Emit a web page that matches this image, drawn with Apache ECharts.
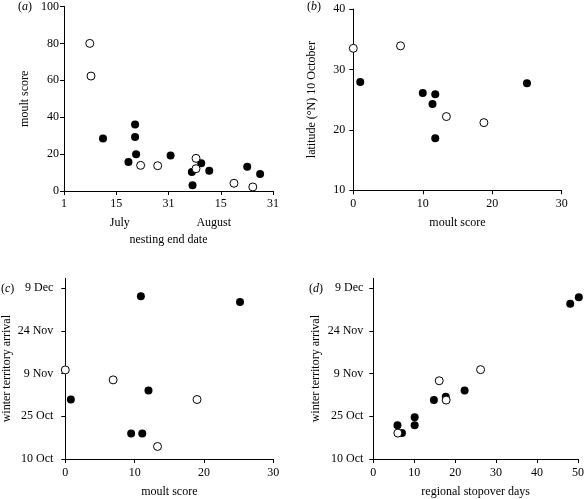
<!DOCTYPE html>
<html><head><meta charset="utf-8">
<script src="https://cdn.jsdelivr.net/npm/echarts@6/dist/echarts.min.js"></script>
<style>html,body{margin:0;padding:0;background:#fff}#c{width:587px;height:499px}</style>
</head><body><div id="c"></div>
<script>
// Panel (a): nesting end date (days from 1 July, axis units) vs moult score
const aFilled = [[11.2,28.5],[20.4,36.1],[20.4,29.3],[20.7,19.9],[18.5,15.7],[30.6,19.3],[36.7,10.3],[36.9,3.1],[39.4,15],[41.7,11],[52.6,13.2],[56.3,9.2]];
const aOpen = [[7.4,80],[7.75,62.3],[22.0,13.9],[26.9,13.7],[37.9,17.7],[37.9,12.1],[48.8,4.2],[54.2,2.2]];
const aTickLabels = ['1','15','31','15','31'];
const aMonths = {16:'July', 43:'August'};
// Panel (b): moult score vs latitude 10 October
const bFilled = [[1.0,27.9],[10.0,26.1],[11.8,25.9],[11.4,24.3],[11.8,18.6],[25.0,27.7]];
const bOpen = [[0,33.5],[6.8,33.9],[13.4,22.2],[18.8,21.2]];
// Panel (c): moult score vs winter territory arrival (days from 10 Oct)
const cFilled = [[10.9,57.2],[25.2,55.2],[12.0,24.1],[0.8,20.9],[9.5,9.0],[11.1,9.0]];
const cOpen = [[0,31.3],[6.9,27.8],[19.0,20.9],[13.3,4.4]];
// Panel (d): regional stopover days vs winter territory arrival
const dFilled = [[48.1,54.6],[50.2,56.8],[22.3,24.1],[14.8,20.7],[17.7,21.9],[10.1,14.7],[10.1,11.9],[5.9,11.9],[7.0,9.1]];
const dOpen = [[26.2,31.4],[16.1,27.5],[17.8,20.7],[6.0,9.1]];
const dateTicks = ['10 Oct','25 Oct','9 Nov','24 Nov','9 Dec'];

const F = 'Liberation Serif';
const txt = {fontFamily: F, fontSize: 12, color: '#000'};
const line = {show: true, lineStyle: {color: '#000', width: 1}};
const tick = {show: true, inside: false, length: 4, lineStyle: {color: '#000', width: 1}};

function vAxis(o) {
  return Object.assign({
    type: 'value', axisLine: line, axisTick: tick, splitLine: {show: false},
    nameLocation: 'middle', nameTextStyle: txt
  }, o);
}
const grids = [
  {left: 64, top: 6.5, width: 209, height: 184.5},
  {left: 353.3, top: 9, width: 208.4, height: 181.3},
  {left: 65.3, top: 278.3, width: 208, height: 181.7},
  {left: 373.3, top: 278.3, width: 207.7, height: 181.7}
];
const dateVals = [0,15,30,45,60];
const xAxes = [
  vAxis({gridIndex: 0, min: 0, max: 60, interval: 15, name: 'nesting end date', nameGap: 43,
    axisLabel: Object.assign({margin: 7, formatter: v => aTickLabels[Math.round(v/15)]}, txt)}),
  vAxis({gridIndex: 1, min: 0, max: 30, interval: 10, name: 'moult score', nameGap: 27,
    axisLabel: Object.assign({margin: 8}, txt)}),
  vAxis({gridIndex: 2, min: 0, max: 30, interval: 10, name: 'moult score', nameGap: 27,
    axisLabel: Object.assign({margin: 8}, txt)}),
  vAxis({gridIndex: 3, min: 0, max: 50, interval: 10, name: 'regional stopover days', nameGap: 27,
    axisLabel: Object.assign({margin: 8}, txt)}),
  {type: 'value', gridIndex: 0, min: 0, max: 60, position: 'bottom', offset: 0,
    axisLine: {show: false}, axisTick: {show: false}, splitLine: {show: false},
    axisLabel: Object.assign({margin: 26, customValues: [16, 43], formatter: v => aMonths[Math.round(v)] || ''}, txt)}
];
const yAxes = [
  vAxis({gridIndex: 0, min: 0, max: 100, interval: 20, name: 'moult score', nameGap: 33,
    axisLabel: Object.assign({margin: 5}, txt)}),
  vAxis({gridIndex: 1, min: 10, max: 40, interval: 10, name: 'latitude (°N) 10 October', nameGap: 35,
    axisLabel: Object.assign({margin: 8}, txt)}),
  vAxis({gridIndex: 2, min: 0, max: 63.5, name: 'winter territory arrival', nameGap: 52,
    axisTick: Object.assign({customValues: dateVals}, tick),
    axisLabel: Object.assign({margin: 12, customValues: dateVals, formatter: v => dateTicks[Math.round(v/15)]}, txt)}),
  vAxis({gridIndex: 3, min: 0, max: 63.5, name: 'winter territory arrival', nameGap: 51,
    axisTick: Object.assign({customValues: dateVals}, tick),
    axisLabel: Object.assign({margin: 10, customValues: dateVals, formatter: v => dateTicks[Math.round(v/15)]}, txt)})
];
function sc(i, data, open) {
  return {type: 'scatter', xAxisIndex: i, yAxisIndex: i, data: data, symbolSize: 8, clip: false,
    z: open ? 3 : 2, silent: true,
    itemStyle: open ? {color: '#fff', borderColor: '#000', borderWidth: 1, opacity: 1}
                    : {color: '#000', borderWidth: 0, opacity: 1}};
}
const series = [
  sc(0, aFilled, false), sc(0, aOpen, true),
  sc(1, bFilled, false), sc(1, bOpen, true),
  sc(2, cFilled, false), sc(2, cOpen, true),
  sc(3, dFilled, false), sc(3, dOpen, true)
];
function lab(letter, x, y) {
  return {type: 'text', left: x, top: y, style: {
    text: '{p|(}{l|' + letter + '}{p|)}',
    rich: {p: {fontFamily: F, fontSize: 12, fill: '#000'}, l: {fontFamily: F, fontSize: 12, fontStyle: 'italic', fill: '#000'}}
  }};
}
const chart = echarts.init(document.getElementById('c'), null, {renderer: 'canvas'});
chart.setOption({
  animation: false, backgroundColor: '#fff',
  grid: grids, xAxis: xAxes, yAxis: yAxes, series: series,
  graphic: [lab('a', 18, 1), lab('b', 307, 1), lab('c', 1, 283), lab('d', 309, 283)]
});
</script></body></html>
